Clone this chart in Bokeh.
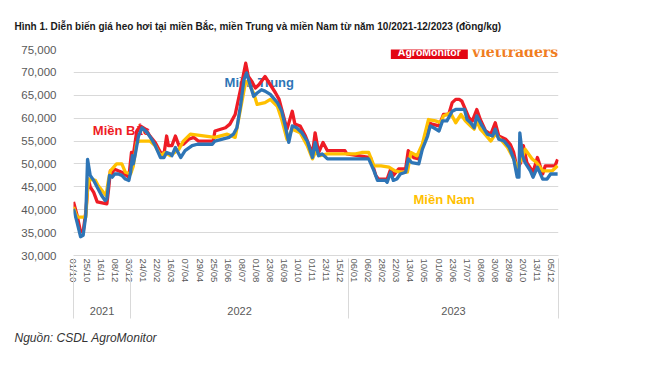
from bokeh.plotting import figure
from bokeh.models import Range1d, FixedTicker, NumeralTickFormatter, LinearAxis, Label, Title
from bokeh.embed import file_html
from bokeh.resources import INLINE

# ---------------- data ----------------
date_labels = ["01/10", "25/10", "16/11", "08/12", "30/12", "24/01", "22/02", "16/03", "07/04",
               "29/04", "25/05", "16/06", "08/07", "01/08", "23/08", "16/09", "10/10", "01/11",
               "23/11", "15/12", "06/01", "06/02", "28/02", "22/03", "13/04", "10/05", "01/06",
               "23/06", "17/07", "08/08", "30/08", "28/09", "20/10", "13/11", "05/12"]
label_step = 16          # observations between two date labels
years = ["2021", "2022", "2023"]
year_bounds = [0, 65, 313, 552]   # observation index where each year group starts / ends

# Miền Bắc (observation index, price đồng/kg)
bac_x = [0, 4, 8, 11, 14, 17, 19, 23, 27, 38, 40, 42, 44, 46, 51, 55, 63, 66, 68, 72, 76, 82, 87, 93,
         99, 103, 106, 108, 112, 116, 120, 125, 131, 137, 142, 159, 161, 173, 178, 184, 190, 196, 199,
         203, 207, 211, 218, 224, 230, 234, 237, 243, 249, 252, 258, 264, 272, 275, 279, 284, 289, 309,
         311, 338, 344, 347, 357, 361, 364, 370, 378, 381, 387, 393, 399, 404, 408, 416, 421, 427, 431,
         435, 439, 442, 446, 450, 454, 459, 463, 469, 475, 480, 484, 492, 497, 501, 505, 509, 512, 516,
         523, 528, 534, 537, 548, 551]
bac_y = [41700, 38800, 35200, 35200, 39500, 46700, 45000, 43800, 41700, 41300, 44600, 48500, 47800,
         48900, 48500, 48200, 47100, 52500, 51800, 57200, 58300, 57600, 56100, 54700, 52500, 52200,
         56100, 54000, 54000, 56100, 54000, 54300, 55400, 55800, 55000, 55000, 57200, 57900, 58700,
         60800, 66200, 72000, 69100, 68000, 66600, 67300, 69100, 67300, 65500, 64100, 61900, 57600,
         61500, 58700, 58300, 56100, 52200, 56800, 52500, 54700, 52900, 52900, 52200, 51400, 47500,
         46700, 46700, 48900, 47500, 48900, 48900, 52900, 51400, 51100, 55000, 59000, 58700, 58300,
         60800, 60800, 63400, 64100, 64100, 63700, 61900, 60100, 59400, 61900, 59700, 57200, 56500,
         59000, 56100, 55400, 54300, 52500, 48900, 50300, 54000, 50300, 48200, 51400, 47800, 49600,
         49600, 51000]

# Miền Trung
trung_x = [0, 4, 8, 11, 14, 16, 19, 23, 27, 32, 36, 38, 41, 44, 47, 51, 55, 59, 63, 65, 67, 68, 70, 74,
           78, 84, 89, 93, 99, 103, 106, 110, 112, 116, 122, 127, 135, 141, 158, 161, 177, 182, 186,
           190, 194, 197, 201, 205, 209, 214, 218, 224, 232, 237, 241, 245, 249, 254, 260, 266, 272,
           275, 279, 283, 289, 336, 342, 346, 355, 357, 361, 364, 368, 372, 378, 381, 385, 393, 397,
           403, 406, 410, 416, 420, 425, 431, 435, 445, 448, 452, 456, 459, 465, 471, 477, 480, 484,
           490, 496, 501, 505, 507, 508, 511, 514, 520, 523, 528, 534, 539, 543, 551]
trung_y = [40200, 37300, 34100, 34400, 38800, 51000, 47500, 46400, 44900, 43100, 42000, 42400, 47500,
           47100, 47800, 47800, 47500, 46700, 46400, 48200, 51800, 50000, 51800, 56100, 57900, 56800,
           55400, 54000, 51400, 51400, 52500, 52200, 51800, 53600, 51400, 52900, 54000, 54300, 54300,
           55000, 55800, 56500, 57900, 62600, 68400, 69900, 67300, 64800, 65500, 66200, 65900, 65200,
           63400, 61500, 58300, 54700, 58300, 57900, 56800, 55000, 51400, 54700, 51800, 52200, 51100,
           51100, 48500, 46400, 46400, 46000, 48200, 46400, 46700, 47800, 48200, 51100, 50300, 50000,
           53200, 56100, 58300, 57900, 57200, 59400, 59400, 61500, 61900, 61900, 59700, 59000, 57900,
           60500, 58300, 56500, 56100, 57600, 55400, 55000, 53600, 51100, 47100, 47100, 56800, 51800,
           50300, 48500, 47100, 49300, 46700, 46700, 47800, 47800]

# Miền Nam
nam_x = [0, 4, 14, 16, 18, 25, 28, 34, 37, 40, 42, 49, 55, 59, 65, 68, 72, 76, 87, 93, 99, 104, 110,
         120, 125, 133, 150, 161, 175, 184, 190, 196, 199, 205, 209, 218, 224, 232, 237, 243, 249, 258,
         266, 272, 275, 281, 289, 321, 328, 336, 342, 350, 359, 366, 372, 380, 384, 391, 397, 404, 412,
         418, 421, 429, 435, 441, 446, 452, 456, 459, 463, 467, 475, 480, 486, 494, 501, 505, 511, 514,
         522, 527, 534, 545, 551]
nam_y = [40600, 38400, 38400, 44600, 46700, 46400, 45300, 43800, 43100, 46700, 48500, 50000, 50000,
         48200, 47800, 49500, 54700, 55000, 55000, 54000, 51800, 52500, 51800, 53200, 55000, 56500,
         56100, 55800, 56500, 55800, 61900, 68000, 67700, 65500, 63000, 63400, 64100, 62600, 59700,
         55400, 57600, 56800, 54000, 51100, 52500, 51800, 52200, 52200, 52500, 52500, 49600, 49600,
         49300, 48500, 48200, 48200, 52500, 51800, 54300, 59700, 59400, 59000, 60500, 61200, 59000,
         60800, 59400, 58300, 57600, 59400, 57600, 56800, 55000, 56500, 55400, 53600, 51100, 49300,
         51400, 53200, 51100, 50300, 48500, 48500, 49600]

y_ticks = [30000, 35000, 40000, 45000, 50000, 55000, 60000, 65000, 70000, 75000]

TITLE = "Hình 1. Diễn biến giá heo hơi tại miền Bắc, miền Trung và miền Nam từ năm 10/2021-12/2023 (đồng/kg)"
SOURCE = "Nguồn: CSDL AgroMonitor"

# ---------------- style ----------------
RED = "#EE1C25"
BLUE = "#2E75B6"
YELLOW = "#FFC000"
ORANGE = "#F07D22"
GRID = "#D9D9D9"
AXIS_TXT = "#595959"
FONT = "Liberation Sans"

p = figure(width=650, height=366, output_backend="svg", toolbar_location=None,
           x_range=Range1d(0, year_bounds[-1]), y_range=Range1d(y_ticks[0], y_ticks[-1]),
           min_border_left=73, min_border_right=92, min_border_top=48, min_border_bottom=111)
p.outline_line_color = None
p.background_fill_color = "white"
p.border_fill_color = "white"

# title
p.title.text = TITLE
p.title.align = "left"
p.title.offset = -59
p.title.standoff = 36
p.title.text_font = FONT
p.title.text_font_style = "bold"
p.title.text_font_size = "10px"
p.title.text_color = "#1A1A1A"

# y axis
p.yaxis.ticker = FixedTicker(ticks=y_ticks)
p.yaxis.formatter = NumeralTickFormatter(format="0,0")
p.yaxis.axis_line_color = None
p.yaxis.major_tick_line_color = None
p.yaxis.minor_tick_line_color = None
p.yaxis.major_label_text_font = FONT
p.yaxis.major_label_text_font_size = "11.5px"
p.yaxis.major_label_text_color = AXIS_TXT
p.yaxis.major_label_standoff = 11
p.ygrid.grid_line_color = GRID
p.ygrid.grid_line_width = 1
p.xgrid.visible = False

# x axis: date labels
tick_pos = [i * label_step for i in range(len(date_labels))]
xa = p.xaxis[0]
xa.ticker = FixedTicker(ticks=tick_pos, minor_ticks=[])
xa.major_label_overrides = {t: lab for t, lab in zip(tick_pos, date_labels)}
xa.major_label_orientation = "vertical"
xa.major_label_text_font = FONT
xa.major_label_text_font_size = "9.5px"
xa.major_label_text_color = AXIS_TXT
xa.major_label_standoff = 3
xa.major_tick_out = 0
xa.major_tick_in = 0
xa.minor_tick_line_color = None
xa.axis_line_color = GRID

# year axis: labels at group centres, group separators as long minor ticks
year_pos = [(year_bounds[i] + year_bounds[i + 1]) / 2 for i in range(len(years))]
sep = [year_bounds[0] + 0.01] + year_bounds[1:-1] + [year_bounds[-1] - 0.01]
ya = LinearAxis(ticker=FixedTicker(ticks=year_pos, minor_ticks=sep),
                major_label_overrides={t: y for t, y in zip(year_pos, years)})
ya.axis_line_color = None
ya.major_tick_line_color = None
ya.minor_tick_line_color = GRID
ya.minor_tick_in = 27
ya.minor_tick_out = 33
ya.major_label_text_font = FONT
ya.major_label_text_font_size = "11px"
ya.major_label_text_color = AXIS_TXT
ya.major_label_standoff = -12
p.add_layout(ya, "below")

# source note
src = Title(text=SOURCE, align="left", offset=-59, standoff=22, text_font=FONT,
            text_font_style="italic", text_font_size="12px", text_color="#333333")
p.add_layout(src, "below")

# series labels (under the lines)
p.add_layout(Label(x=22, y=57300, text="Miền Bắc", text_color=RED, text_font=FONT,
                   text_font_style="bold", text_font_size="13px", text_baseline="middle",
                   level="underlay"))
p.add_layout(Label(x=172, y=67700, text="Miền Trung", text_color=BLUE, text_font=FONT,
                   text_font_style="bold", text_font_size="13px", text_baseline="middle",
                   level="underlay"))
p.add_layout(Label(x=387, y=42300, text="Miền Nam", text_color=YELLOW, text_font=FONT,
                   text_font_style="bold", text_font_size="13px", text_baseline="middle",
                   level="underlay"))

# lines
p.line(bac_x, bac_y, line_color=RED, line_width=3.3, line_join="round")
p.line(nam_x, nam_y, line_color=YELLOW, line_width=3.3, line_join="round")
p.line(trung_x, trung_y, line_color=BLUE, line_width=3.3, line_join="round")

# logo
p.add_layout(Label(x=405, y=74450, text="AgroMonitor", text_color="white", text_font=FONT,
                   text_font_style="bold", text_font_size="10.5px", text_align="center",
                   text_baseline="middle", background_fill_color="#E30613",
                   padding=dict(left=7, right=7, top=1, bottom=1)))
p.add_layout(Label(x=551.5, y=74500, text="viettraders", text_color=ORANGE, text_font="DejaVu Serif",
                   text_font_style="bold", text_font_size="14px", text_align="right",
                   text_baseline="middle"))

open("out.html", "w").write(file_html(p, INLINE))
